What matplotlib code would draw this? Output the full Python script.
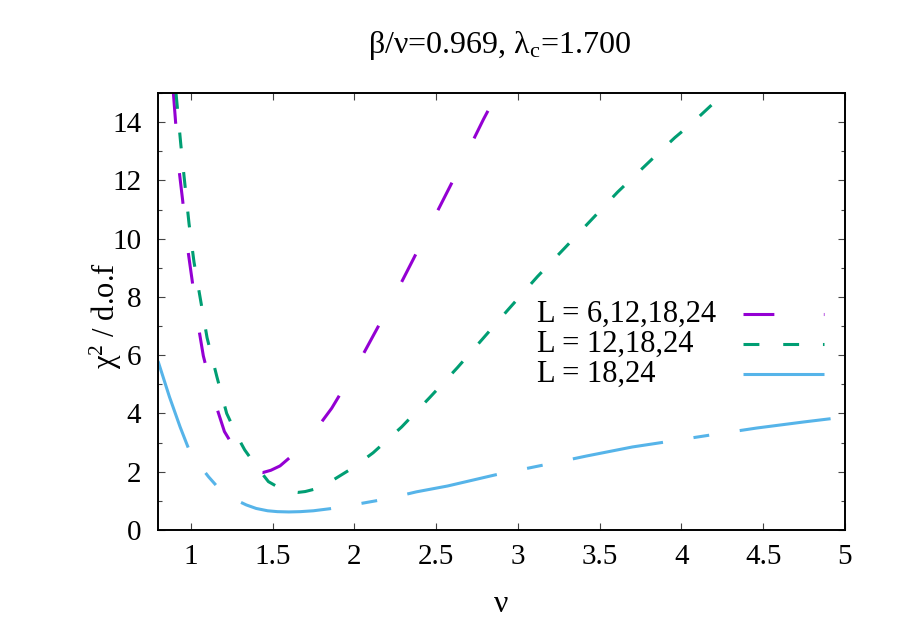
import matplotlib
matplotlib.use("Agg")
import matplotlib.pyplot as plt
from matplotlib.ticker import MultipleLocator

# chi^2 / d.o.f versus nu
nu_a = [0.894, 0.908, 0.93, 0.951, 0.982, 1.008, 1.047, 1.077, 1.149, 1.206, 1.29, 1.373,
        1.41, 1.44, 1.49, 1.546, 1.65, 1.754, 1.862, 2.0, 2.141, 2.229, 2.362, 2.443, 2.575,
        2.661, 2.79, 2.875]
chi_a = [15.0, 13.97, 12.3, 11.3, 9.64, 8.6, 6.99, 5.98, 4.37, 3.38, 2.6, 2.06,
         1.98, 1.97, 2.05, 2.2, 2.7, 3.36, 4.18, 5.47, 6.93, 7.85, 9.31, 10.22, 11.68,
         12.63, 14.1, 15.0]

nu_b = [0.91, 0.94, 0.96, 0.99, 1.02, 1.06, 1.10, 1.16, 1.22, 1.29, 1.33, 1.40, 1.475, 1.55,
        1.61, 1.655, 1.70, 1.77, 1.84, 1.99, 2.115, 2.29, 2.46, 2.63, 2.78, 2.94, 3.12, 3.29,
        3.45, 3.61, 3.85, 3.96, 4.07, 4.24]
chi_b = [15.0, 13.2, 12.1, 10.5, 9.2, 7.9, 6.6, 5.26, 4.0, 3.16, 2.75, 2.2, 1.66, 1.42,
         1.32, 1.29, 1.32, 1.42, 1.61, 2.13, 2.65, 3.54, 4.54, 5.57, 6.53, 7.56, 8.7, 9.7,
         10.65, 11.6, 12.89, 13.47, 13.99, 14.88]

nu_c = [0.8, 0.87, 0.935, 0.99, 1.05, 1.11, 1.17, 1.25, 1.34, 1.40, 1.47, 1.53, 1.6, 1.67,
        1.75, 1.85, 1.97, 2.2, 2.38, 2.57, 2.86, 3.2, 3.42, 3.7, 3.9, 4.2, 4.46, 4.75, 5.0]
chi_c = [5.8, 4.57, 3.54, 2.75, 2.25, 1.82, 1.44, 1.1, 0.86, 0.74, 0.66, 0.63, 0.62, 0.63,
         0.66, 0.73, 0.84, 1.07, 1.31, 1.51, 1.89, 2.28, 2.54, 2.85, 3.02, 3.28, 3.5, 3.71, 3.88]

labels = ["L = 6,12,18,24", "L = 12,18,24", "L = 18,24"]
colors = ["#9400D3", "#009E73", "#56B4E9"]
styles = [(10.1, 16.2), (5.2, 7.8), (30, 10.1, 5.2, 10.1)]

plt.rcParams["font.family"] = ["Liberation Serif", "DejaVu Serif"]
plt.rcParams["mathtext.fontset"] = "custom"
plt.rcParams["mathtext.rm"] = "Liberation Serif"
plt.rcParams["mathtext.it"] = "Liberation Serif"

fs = 21
fig = plt.figure(figsize=(9, 6.3), dpi=100)
ax = fig.add_axes([158 / 900, 1 - 530 / 630, 687 / 900, 437 / 630])

lw = 2.2
for (x, y), c, d in zip([(nu_a, chi_a), (nu_b, chi_b), (nu_c, chi_c)], colors, styles):
    ax.plot(x, y, color=c, lw=lw, dashes=d)

ax.set_xlim(0.8, 5)
ax.set_ylim(0, 15)
ax.yaxis.set_major_locator(MultipleLocator(2))
ax.yaxis.set_minor_locator(MultipleLocator(1))
ax.set_xticks([1, 1.5, 2, 2.5, 3, 3.5, 4, 4.5, 5])
ax.set_xticklabels(["1", "1.5", "2", "2.5", "3", "3.5", "4", "4.5", "5"])
ax.tick_params(which="both", direction="in", top=True, right=True, labelsize=fs,
               color="#444444", width=0.8)
ax.tick_params(which="major", length=5)
ax.tick_params(which="minor", length=3)
ax.tick_params(axis="y", pad=12)
ax.tick_params(axis="x", pad=10)
for s in ax.spines.values():
    s.set_linewidth(1.4)

fig.text(500 / 900, 1 - 45 / 630, r"β/ν=0.969, λ$_\mathrm{c}$=1.700", ha="center",
         va="center", fontsize=23)
fig.text(501 / 900, 1 - 604 / 630, "ν", ha="center", va="center", fontsize=23)
fig.text(106 / 900, 1 - 316 / 630, r"χ$^2$ / d.o.f", ha="center", va="center",
         rotation=90, fontsize=22)

# key: text left aligned, sample line to the right
tx = (537 - 158) / 687
sx0 = (743 - 158) / 687
sx1 = (824 - 158) / 687
for i, (lab, c, d) in enumerate(zip(labels, colors, styles)):
    yk = (530 - 314 - 30 * i) / 437
    ax.text(tx, yk, lab, transform=ax.transAxes, ha="left", va="center", fontsize=22)
    ax.plot([sx0, sx1], [yk, yk], transform=ax.transAxes, color=c, lw=lw, dashes=d)

fig.savefig("out.png", dpi=100)
